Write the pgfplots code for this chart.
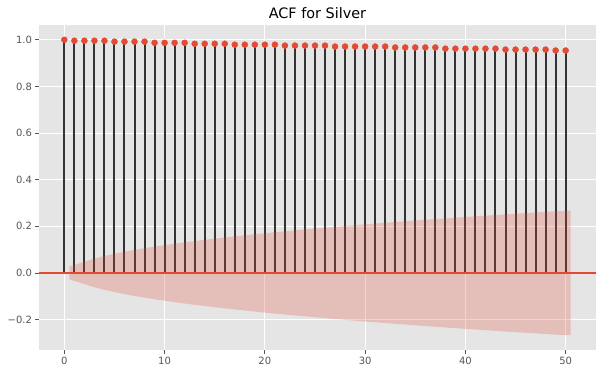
\documentclass[border=0pt]{standalone}
\usepackage{pgfplots}
\pgfplotsset{compat=1.18}
\usepackage{fontspec}
\setmainfont{DejaVu Sans}
\definecolor{ggred}{HTML}{E24A33}
\definecolor{ggbg}{HTML}{E5E5E5}
\definecolor{ticktext}{HTML}{555555}
\definecolor{stem}{HTML}{333333}
\begin{document}
\begin{tikzpicture}
\begin{axis}[name=ax, scale only axis, width=557bp, height=325bp,
  xmin=-2.525, xmax=53.025, ymin=-0.3306, ymax=1.0634,
  axis background/.style={fill=ggbg},
  axis line style={draw=none},
  grid=major, major grid style={white, line width=0.9bp},
  tick align=outside, major tick length=3.5bp,
  tick style={ticktext, line width=0.8bp},
  xtick pos=bottom, ytick pos=left,
  xtick={0,10,20,30,40,50}, xticklabels={0,10,20,30,40,50},
  ytick={-0.2,0,0.2,0.4,0.6,0.8,1.0},
  yticklabels={−0.2,0.0,0.2,0.4,0.6,0.8,1.0},
  tick label style={font=\fontsize{10bp}{12bp}\selectfont, text=ticktext},
  every axis title shift=0pt,
  title={ACF for Silver},
  title style={font=\fontsize{14.4bp}{17bp}\selectfont, at={(0.5,1)}, anchor=base, yshift=6bp},
]
% stems
\addplot[ycomb, draw=stem, line width=2bp, mark=none] coordinates {
(0,1.000)(1,0.996)(2,0.996)(3,0.996)(4,0.996)(5,0.992)(6,0.992)(7,0.992)(8,0.992)
(9,0.987)(10,0.987)(11,0.987)(12,0.987)(13,0.983)(14,0.983)(15,0.983)(16,0.983)
(17,0.979)(18,0.979)(19,0.979)(20,0.979)(21,0.979)(22,0.975)(23,0.975)(24,0.975)
(25,0.975)(26,0.975)(27,0.971)(28,0.971)(29,0.971)(30,0.971)(31,0.971)(32,0.971)
(33,0.967)(34,0.967)(35,0.967)(36,0.967)(37,0.967)(38,0.962)(39,0.962)(40,0.962)
(41,0.962)(42,0.962)(43,0.962)(44,0.958)(45,0.958)(46,0.958)(47,0.958)(48,0.958)
(49,0.954)(50,0.954)};
% zero line
\addplot[ggred, line width=1.5bp, mark=none] coordinates {(-2.525,0)(53.025,0)};
% markers
\addplot[only marks, mark=*, mark size=3bp, color=ggred] coordinates {
(0,1.000)(1,0.996)(2,0.996)(3,0.996)(4,0.996)(5,0.992)(6,0.992)(7,0.992)(8,0.992)
(9,0.987)(10,0.987)(11,0.987)(12,0.987)(13,0.983)(14,0.983)(15,0.983)(16,0.983)
(17,0.979)(18,0.979)(19,0.979)(20,0.979)(21,0.979)(22,0.975)(23,0.975)(24,0.975)
(25,0.975)(26,0.975)(27,0.971)(28,0.971)(29,0.971)(30,0.971)(31,0.971)(32,0.971)
(33,0.967)(34,0.967)(35,0.967)(36,0.967)(37,0.967)(38,0.962)(39,0.962)(40,0.962)
(41,0.962)(42,0.962)(43,0.962)(44,0.958)(45,0.958)(46,0.958)(47,0.958)(48,0.958)
(49,0.954)(50,0.954)};
% confidence band
\addplot[draw=none, fill=ggred, fill opacity=0.25, mark=none] coordinates {
(0.5,0.0275)(2,0.0476)(3,0.0614)(4,0.0726)(5,0.0823)(6,0.0910)(7,0.0989)(8,0.1061)
(9,0.1129)(10,0.1193)(11,0.1254)(12,0.1312)(13,0.1367)(14,0.1420)(15,0.1471)
(16,0.1520)(17,0.1567)(18,0.1613)(19,0.1658)(20,0.1702)(21,0.1744)(22,0.1785)
(23,0.1825)(24,0.1864)(25,0.1903)(26,0.1940)(27,0.1977)(28,0.2013)(29,0.2048)
(30,0.2083)(31,0.2117)(32,0.2150)(33,0.2183)(34,0.2215)(35,0.2247)(36,0.2278)
(37,0.2309)(38,0.2339)(39,0.2369)(40,0.2398)(41,0.2427)(42,0.2456)(43,0.2484)
(44,0.2512)(45,0.2539)(46,0.2567)(47,0.2593)(48,0.2620)(49,0.2646)(50.5,0.2672)
(50.5,-0.2672)(49,-0.2646)(48,-0.2620)(47,-0.2593)(46,-0.2567)(45,-0.2539)(44,-0.2512)
(43,-0.2484)(42,-0.2456)(41,-0.2427)(40,-0.2398)(39,-0.2369)(38,-0.2339)(37,-0.2309)
(36,-0.2278)(35,-0.2247)(34,-0.2215)(33,-0.2183)(32,-0.2150)(31,-0.2117)(30,-0.2083)
(29,-0.2048)(28,-0.2013)(27,-0.1977)(26,-0.1940)(25,-0.1903)(24,-0.1864)(23,-0.1825)
(22,-0.1785)(21,-0.1744)(20,-0.1702)(19,-0.1658)(18,-0.1613)(17,-0.1567)(16,-0.1520)
(15,-0.1471)(14,-0.1420)(13,-0.1367)(12,-0.1312)(11,-0.1254)(10,-0.1193)(9,-0.1129)
(8,-0.1061)(7,-0.0989)(6,-0.0910)(5,-0.0823)(4,-0.0726)(3,-0.0614)(2,-0.0476)(0.5,-0.0275)
} -- cycle;
\end{axis}
\pgfresetboundingbox
\path ([shift={(-39bp,-24bp)}]ax.south west) rectangle ([shift={(7bp,25bp)}]ax.north east);
\end{tikzpicture}
\end{document}
